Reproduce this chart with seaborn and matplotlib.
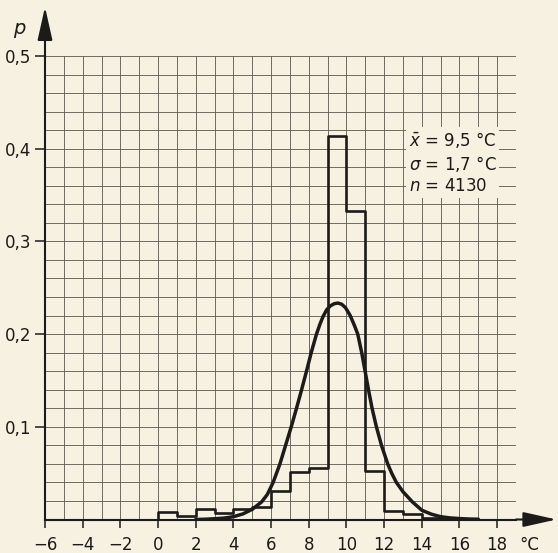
import numpy as np
import pandas as pd
import matplotlib
matplotlib.use("Agg")
import matplotlib.pyplot as plt
from matplotlib.ticker import MultipleLocator, FuncFormatter
import seaborn as sns

# ---- data ----
bin_edges = list(range(0, 18))           # 1 °C classes from 0 to 17 °C
bin_probs = [0.008, 0.004, 0.011, 0.007, 0.011, 0.014, 0.031, 0.051, 0.056,
             0.414, 0.333, 0.052, 0.009, 0.006, 0.002, 0.001, 0.001]

curve_x = [2.0, 2.5, 3.0, 3.5, 4.0, 4.5, 5.0, 5.5, 5.8, 6.11, 6.47, 6.77,
           7.07, 7.35, 7.62, 7.88, 8.13, 8.41, 8.6, 8.76, 8.95, 9.15, 9.35,
           9.55, 9.75, 9.95, 10.2, 10.42, 10.6, 10.81, 10.99, 11.17, 11.36,
           11.59, 11.86, 12.19, 12.4, 12.65, 13.0, 13.5, 14.0, 14.5, 15.0,
           15.5, 16.0, 16.5, 17.0]
curve_p = [0.0, 0.0003, 0.0008, 0.0015, 0.003, 0.006, 0.011, 0.019, 0.027,
           0.040, 0.060, 0.080, 0.100, 0.120, 0.140, 0.160, 0.180, 0.200,
           0.211, 0.219, 0.2262, 0.2305, 0.2328, 0.2335, 0.2322, 0.2285,
           0.220, 0.2095, 0.200, 0.180, 0.160, 0.140, 0.120, 0.100, 0.080,
           0.060, 0.050, 0.040, 0.030, 0.019, 0.010, 0.0058, 0.003, 0.0017,
           0.001, 0.0005, 0.0003]

x_ticks = [-6, -4, -2, 0, 2, 4, 6, 8, 10, 12, 14, 16, 18]
y_ticks = [0.1, 0.2, 0.3, 0.4, 0.5]
stats_text = "$\\bar{x}$ = 9,5 °C\n$\\sigma$ = 1,7 °C\n$n$ = 4130"

# ---- style ----
BG = "#f7f1e2"
INK = "#1c1b19"
GRID = "#66625b"

sns.set_theme(style="ticks")
plt.rcParams["font.family"] = ["DejaVu Sans"]
plt.rcParams["axes.unicode_minus"] = True

fig = plt.figure(figsize=(5.58, 5.53), dpi=100, facecolor=BG)
ax = fig.add_axes([45 / 558, 1 - 519.5 / 553, 471 / 558, 463.5 / 553])
ax.set_facecolor(BG)

# histogram outline (step line)
step_x = [bin_edges[0]] + bin_edges
step_y = [0.0] + bin_probs + [bin_probs[-1]]
hist_df = pd.DataFrame({"x": step_x, "p": step_y})
sns.lineplot(data=hist_df, x="x", y="p", ax=ax, sort=False, estimator=None,
             drawstyle="steps-post", color=INK, lw=1.9, zorder=4)

# fitted curve
curve_df = pd.DataFrame({"x": curve_x, "p": curve_p})
sns.lineplot(data=curve_df, x="x", y="p", ax=ax, sort=False, estimator=None,
             color=INK, lw=2.5, zorder=5, solid_joinstyle="round",
             solid_capstyle="round")

ax.set_xlim(-6, 19)
ax.set_ylim(0, 0.5)
ax.xaxis.set_minor_locator(MultipleLocator(1))
ax.yaxis.set_minor_locator(MultipleLocator(0.02))
ax.set_xticks(x_ticks)
ax.set_yticks(y_ticks)
ax.yaxis.set_major_formatter(FuncFormatter(lambda v, pos: f"{v:.1f}".replace(".", ",")))
ax.xaxis.set_major_formatter(FuncFormatter(lambda v, pos: f"{int(round(v))}".replace("-", "\u2212")))

ax.grid(which="both", color=GRID, lw=0.65, zorder=1)
ax.set_axisbelow(True)
ax.tick_params(axis="x", which="major", direction="out", length=6, width=1.1,
               color=INK, labelcolor=INK, labelsize=12, pad=6)
ax.tick_params(axis="y", which="major", direction="out", length=7, width=1.1,
               color=INK, labelcolor=INK, labelsize=12, pad=3)
ax.tick_params(which="minor", length=0)
ax.set_xlabel("")
ax.set_ylabel("")

for s in ["top", "right"]:
    ax.spines[s].set_visible(False)
for s in ["left", "bottom"]:
    ax.spines[s].set_color(INK)
    ax.spines[s].set_linewidth(1.5)

# axis arrows
arrow_kw = dict(arrowstyle="-|>,head_length=1.7,head_width=0.38", color=INK,
                lw=1.5, shrinkA=0, shrinkB=0, mutation_scale=12)
ax.annotate("", xy=(21.15, 0), xytext=(19, 0), arrowprops=arrow_kw,
            annotation_clip=False, zorder=6)
ax.annotate("", xy=(-6, 0.553), xytext=(-6, 0.5), arrowprops=arrow_kw,
            annotation_clip=False, zorder=6)

# axis labels
ax.text(-7.35, 0.528, "$p$", fontsize=14, color=INK, ha="center", va="center",
        clip_on=False)
ax.text(19.7, -0.0275, "°C", fontsize=12, color=INK, ha="center", va="center",
        clip_on=False)

# statistics box
ax.text(13.3, 0.385, stats_text, fontsize=12, color=INK, ha="left", va="center",
        linespacing=1.25, zorder=3,
        bbox=dict(boxstyle="square,pad=0.15", facecolor=BG, edgecolor="none"))

fig.savefig("out.png", dpi=100, facecolor=BG)
